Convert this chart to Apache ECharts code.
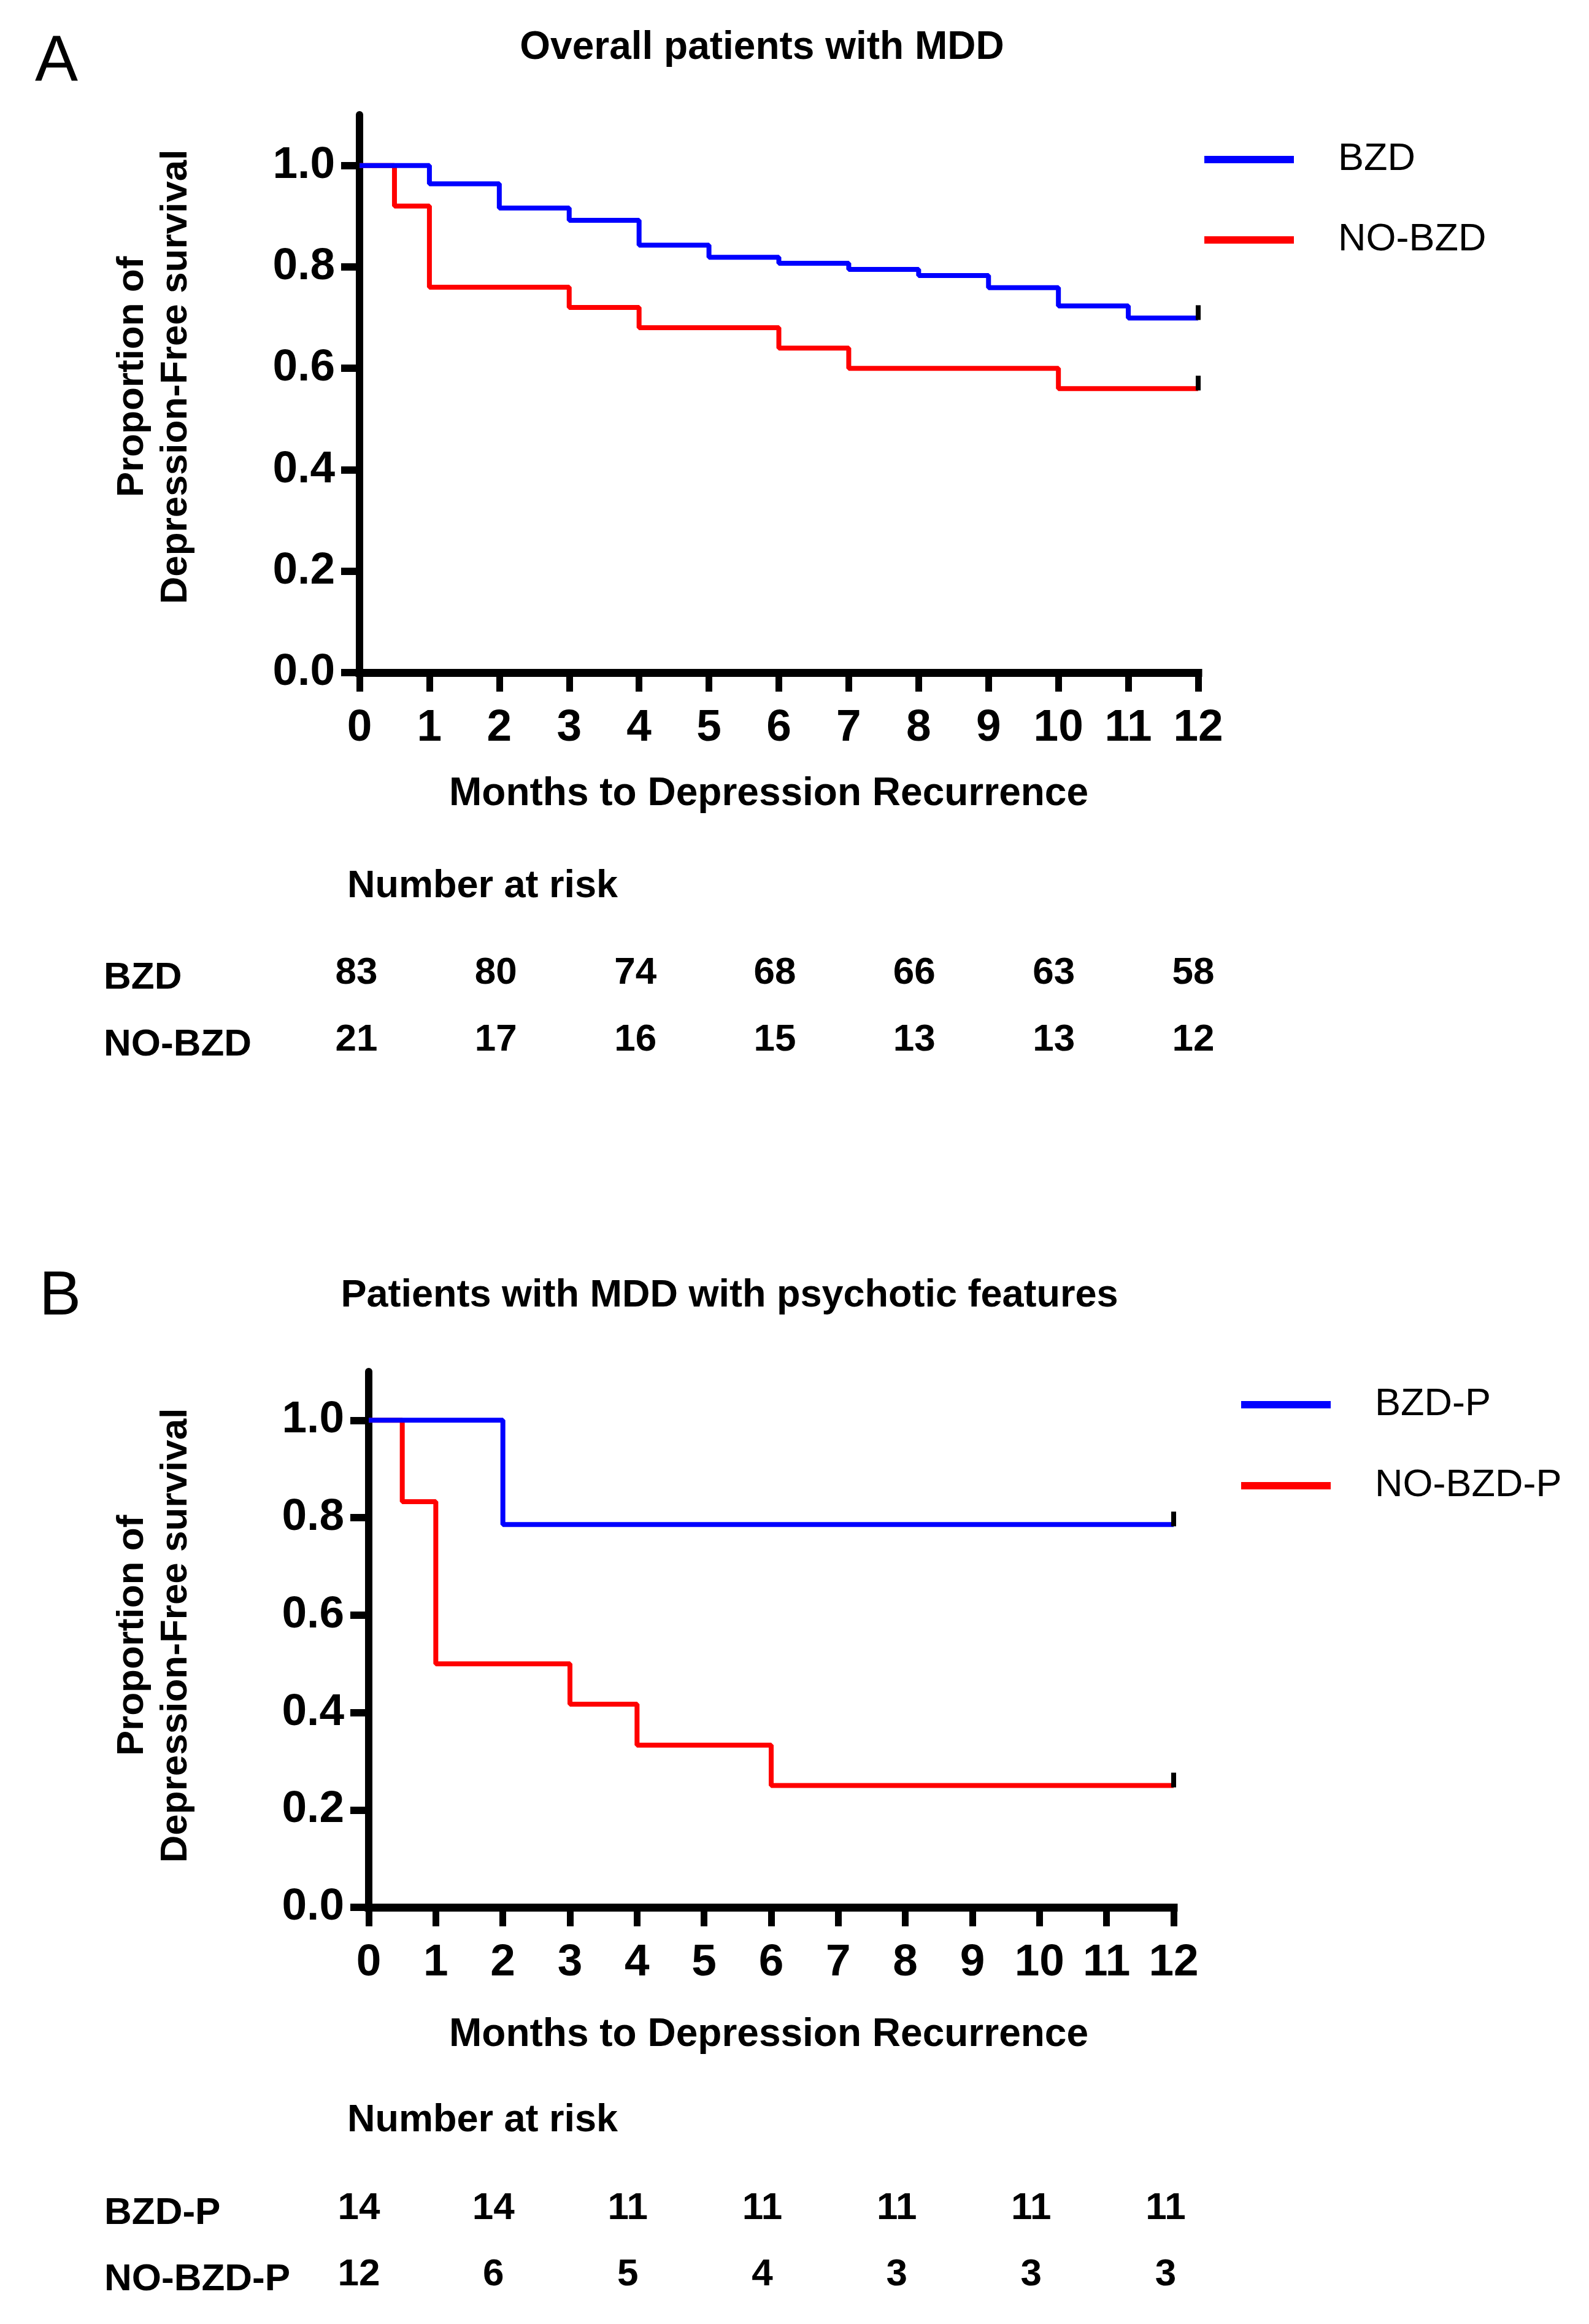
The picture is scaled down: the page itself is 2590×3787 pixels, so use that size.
<!DOCTYPE html>
<html>
<head>
<meta charset="utf-8">
<script src="https://cdn.jsdelivr.net/npm/echarts@6/dist/echarts.min.js"></script>
<style>
html,body{margin:0;padding:0;background:#fff;}
#chart{width:2590px;height:3787px;}
</style>
</head>
<body>
<div id="chart"></div>
<script>
// ---- Data ----
const monthTicks = [0,1,2,3,4,5,6,7,8,9,10,11,12];
const yTickValues = [0, 0.2, 0.4, 0.6, 0.8, 1.0];

// Panel A: Overall patients with MDD
const timeA_BZD = [0, 1, 2, 3, 4, 5, 6, 7, 8, 9, 10, 11, 12];
const survA_BZD = [1.0, 0.964, 0.916, 0.892, 0.843, 0.819, 0.807, 0.795, 0.783, 0.759, 0.723, 0.699, 0.699];
const timeA_NOBZD = [0, 0.5, 1, 3, 4, 6, 7, 10, 12];
const survA_NOBZD = [1.0, 0.92, 0.76, 0.72, 0.68, 0.64, 0.60, 0.56, 0.56];

// Panel B: Patients with MDD with psychotic features
const timeB_BZD = [0, 2, 12];
const survB_BZD = [1.0, 0.786, 0.786];
const timeB_NOBZD = [0, 0.5, 1, 3, 4, 6, 12];
const survB_NOBZD = [1.0, 0.833, 0.5, 0.417, 0.333, 0.25, 0.25];

// Number at risk
const riskTimes = [0, 2, 4, 6, 8, 10, 12];
const riskA_BZD = [83, 80, 74, 68, 66, 63, 58];
const riskA_NOBZD = [21, 17, 16, 15, 13, 13, 12];
const riskB_BZD = [14, 14, 11, 11, 11, 11, 11];
const riskB_NOBZD = [12, 6, 5, 4, 3, 3, 3];

const rowsA = ['BZD', 'NO-BZD'];
const rowsB = ['BZD-P', 'NO-BZD-P'];

// ---- Styling ----
const FF = "Liberation Sans, Arial, Helvetica, sans-serif";
const BLUE = '#0000ff', RED = '#ff0000';

const chart = echarts.init(document.getElementById('chart'), null, {renderer: 'canvas'});

function zip(t, v) { return t.map((x, i) => [x, v[i]]); }

function kmAxisX(gridIndex) {
  return {
    type: 'value', gridIndex, min: 0, max: 12, interval: 1,
    axisLine: {show: true, lineStyle: {color: '#000', width: 13, cap: 'square'}},
    axisTick: {show: true, length: 31, lineStyle: {color: '#000', width: 11}},
    axisLabel: {show: true, margin: 54, color: '#000', fontSize: 73, fontWeight: 'bold', fontFamily: FF},
    splitLine: {show: false}
  };
}
function kmAxisY(gridIndex) {
  return {
    type: 'value', gridIndex, min: 0, max: 1.1,
    axisLine: {show: true, lineStyle: {color: '#000', width: 12}},
    axisTick: {show: true, length: 30, lineStyle: {color: '#000', width: 12}, customValues: yTickValues},
    axisLabel: {show: true, margin: 40, color: '#000', fontSize: 73, fontWeight: 'bold', fontFamily: FF,
      customValues: yTickValues, formatter: v => v.toFixed(1)},
    splitLine: {show: false}
  };
}
function riskAxisX(gridIndex) {
  return {type: 'value', gridIndex, min: 0, max: 12, show: false};
}
function riskAxisY(gridIndex, rows, margin) {
  return {
    type: 'category', gridIndex, data: rows, inverse: true, boundaryGap: false,
    axisLine: {show: false}, axisTick: {show: false}, splitLine: {show: false},
    axisLabel: {show: true, align: 'left', margin, color: '#000', fontSize: 62, fontWeight: 'bold',
      fontFamily: FF, formatter: v => '{r|' + v + '}',
      rich: {r: {color: '#000', fontSize: 62, fontWeight: 'bold', fontFamily: FF, padding: [16, 0, 0, 0]}}}
  };
}
function kmLine(name, t, s, color, xi, z) {
  return {
    name, type: 'line', xAxisIndex: xi, yAxisIndex: xi, data: zip(t, s), step: 'end',
    symbol: 'none', lineStyle: {color, width: 8}, itemStyle: {color}, z, animation: false
  };
}
function censor(t, s, xi) {
  return {
    type: 'scatter', xAxisIndex: xi, yAxisIndex: xi,
    data: [[t[t.length - 1], s[s.length - 1]]],
    symbol: 'rect', symbolSize: [8, 24], symbolOffset: [0, -9],
    itemStyle: {color: '#000', opacity: 1}, z: 5, animation: false, silent: true
  };
}
function riskRow(vals, rowIdx, xi) {
  return {
    type: 'scatter', xAxisIndex: xi, yAxisIndex: xi,
    data: riskTimes.map((t, i) => [t, rowIdx, vals[i]]),
    symbolSize: 0, itemStyle: {opacity: 1, color: '#000'},
    label: {show: true, position: 'inside', formatter: p => String(p.value[2]), opacity: 1,
      color: '#000', fontSize: 62, fontWeight: 'bold', fontFamily: FF},
    animation: false, silent: true
  };
}
function txt(x, y, text, size, weight, align, rotation) {
  return {
    type: 'text', x, y, rotation: rotation || 0, silent: true,
    style: {text, fill: '#000', font: (weight || 'normal') + ' ' + size + 'px ' + FF,
      textAlign: align || 'left', textVerticalAlign: 'middle'}
  };
}

const option = {
  backgroundColor: '#fff',
  animation: false,
  grid: [
    {left: 586, top: 187, width: 1367, height: 909},
    {left: 601, top: 2235, width: 1312, height: 873},
    {left: 581, top: 1586, width: 1364, height: 109},
    {left: 585, top: 3599, width: 1315, height: 108}
  ],
  xAxis: [kmAxisX(0), kmAxisX(1), riskAxisX(2), riskAxisX(3)],
  yAxis: [kmAxisY(0), kmAxisY(1), riskAxisY(2, rowsA, 412), riskAxisY(3, rowsB, 415)],
  legend: [
    {data: ['BZD', 'NO-BZD'], orient: 'vertical', left: 1958, top: 220, itemWidth: 146, itemHeight: 12,
      itemGap: 61, icon: 'rect', selectedMode: false,
      textStyle: {fontSize: 63, lineHeight: 70, color: '#000', fontFamily: FF, padding: [0, 0, 0, 67]}},
    {data: ['BZD-P', 'NO-BZD-P'], orient: 'vertical', left: 2018, top: 2249, itemWidth: 146, itemHeight: 12,
      itemGap: 62, icon: 'rect', selectedMode: false,
      textStyle: {fontSize: 63, lineHeight: 70, color: '#000', fontFamily: FF, padding: [0, 0, 0, 67]}}
  ],
  series: [
    kmLine('NO-BZD', timeA_NOBZD, survA_NOBZD, RED, 0, 2),
    kmLine('BZD', timeA_BZD, survA_BZD, BLUE, 0, 3),
    censor(timeA_BZD, survA_BZD, 0),
    censor(timeA_NOBZD, survA_NOBZD, 0),
    kmLine('NO-BZD-P', timeB_NOBZD, survB_NOBZD, RED, 1, 2),
    kmLine('BZD-P', timeB_BZD, survB_BZD, BLUE, 1, 3),
    censor(timeB_BZD, survB_BZD, 1),
    censor(timeB_NOBZD, survB_NOBZD, 1),
    riskRow(riskA_BZD, 0, 2),
    riskRow(riskA_NOBZD, 1, 2),
    riskRow(riskB_BZD, 0, 3),
    riskRow(riskB_NOBZD, 1, 3)
  ],
  graphic: [
    txt(57, 102, 'A', 105, 'normal', 'left'),
    txt(1242, 78, 'Overall patients with MDD', 64, 'bold', 'center'),
    txt(216, 614, 'Proportion of', 62, 'bold', 'center', Math.PI / 2),
    txt(287, 614, 'Depression-Free survival', 62, 'bold', 'center', Math.PI / 2),
    txt(1253, 1294, 'Months to Depression Recurrence', 64, 'bold', 'center'),
    txt(566, 1445, 'Number at risk', 63, 'bold', 'left'),
    txt(64, 2114, 'B', 102, 'normal', 'left'),
    txt(1189, 2112, 'Patients with MDD with psychotic features', 63, 'bold', 'center'),
    txt(216, 2665, 'Proportion of', 62, 'bold', 'center', Math.PI / 2),
    txt(287, 2665, 'Depression-Free survival', 62, 'bold', 'center', Math.PI / 2),
    txt(1253, 3316, 'Months to Depression Recurrence', 64, 'bold', 'center'),
    txt(566, 3456, 'Number at risk', 63, 'bold', 'left')
  ]
};
chart.setOption(option);
</script>
</body>
</html>
